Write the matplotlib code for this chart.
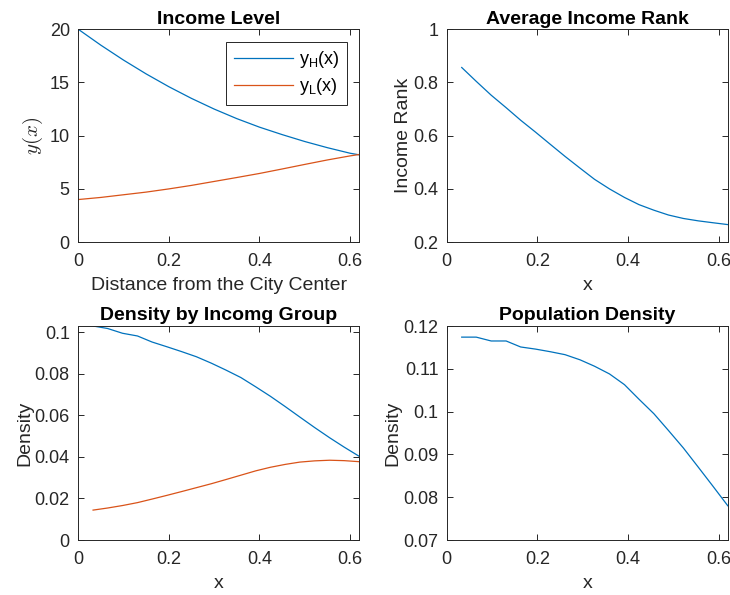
import matplotlib
matplotlib.use("Agg")
import matplotlib.pyplot as plt

plt.rcParams["font.family"] = ["Liberation Sans", "DejaVu Sans"]
plt.rcParams["mathtext.fontset"] = "custom"
plt.rcParams["mathtext.rm"] = "Liberation Sans"
plt.rcParams["mathtext.it"] = "Liberation Sans:italic"

BLUE = "#0072BD"
RED = "#D95319"
DARK = "#262626"

# income level (distance from centre)
x_inc = [0.0, 0.05, 0.1, 0.15, 0.2, 0.25, 0.3, 0.35, 0.4, 0.45, 0.5, 0.55, 0.6, 0.62]
y_high = [20.0, 18.5, 17.1, 15.8, 14.6, 13.5, 12.5, 11.6, 10.8, 10.1, 9.45, 8.87, 8.35, 8.2]
y_low = [4.0, 4.2, 4.45, 4.7, 5.0, 5.33, 5.7, 6.07, 6.45, 6.87, 7.3, 7.72, 8.1, 8.23]

# grid for the other three panels
x_grid = [0.033, 0.065, 0.098, 0.131, 0.163, 0.196, 0.228, 0.261, 0.294, 0.326,
          0.359, 0.392, 0.424, 0.457, 0.489, 0.522, 0.555, 0.587, 0.62]
rank = [0.856, 0.804, 0.752, 0.705, 0.658, 0.613, 0.568, 0.522, 0.478, 0.436,
        0.400, 0.368, 0.341, 0.320, 0.302, 0.289, 0.280, 0.273, 0.266]
dens_high = [0.1030, 0.1018, 0.0995, 0.0982, 0.0953, 0.0930, 0.0907, 0.0882, 0.0851, 0.0818,
             0.0782, 0.0737, 0.0692, 0.0642, 0.0592, 0.0541, 0.0492, 0.0447, 0.0403]
dens_low = [0.0144, 0.0154, 0.0166, 0.0180, 0.0197, 0.0215, 0.0233, 0.0252, 0.0271, 0.0291,
            0.0312, 0.0333, 0.0350, 0.0364, 0.0375, 0.0381, 0.0384, 0.0382, 0.0377]
pop_dens = [0.1174, 0.1174, 0.1165, 0.1165, 0.1151, 0.1146, 0.1140, 0.1133, 0.1121, 0.1106,
            0.1088, 0.1063, 0.1029, 0.0995, 0.0956, 0.0915, 0.0870, 0.0826, 0.0780]

LW = 0.9
TICK_FS = 13
LABEL_FS = 14


def style(ax):
    ax.tick_params(direction="in", top=True, right=True, labelsize=TICK_FS, colors=DARK,
                   length=4, width=0.7)
    ax.tick_params(axis="x", pad=8)
    ax.tick_params(axis="y", pad=6)
    for s in ax.spines.values():
        s.set_color(DARK)
        s.set_linewidth(0.7)
    ax.set_xlim(0, 0.62)
    ax.set_xticks([0, 0.2, 0.4, 0.6])
    ax.set_xticklabels(["0", "0.2", "0.4", "0.6"])


def labels(ax, title, xlabel, ylabel):
    ax.set_title(title, fontsize=LABEL_FS, fontweight="bold", pad=4)
    ax.set_xlabel(xlabel, fontsize=LABEL_FS, color=DARK, labelpad=5)
    ax.set_ylabel(ylabel, fontsize=LABEL_FS, color=DARK, labelpad=1)


fig = plt.figure(figsize=(7.3, 5.95), dpi=100)
w = 0.385
ax1 = fig.add_axes([0.107, 0.593, w, 0.358])
ax2 = fig.add_axes([0.612, 0.593, w, 0.358])
ax3 = fig.add_axes([0.107, 0.0924, w, 0.3597])
ax4 = fig.add_axes([0.612, 0.0924, w, 0.3597])

ax1.plot(x_inc, y_high, color=BLUE, lw=LW, label=r"y$_\mathrm{H}$(x)")
ax1.plot(x_inc, y_low, color=RED, lw=LW, label=r"y$_\mathrm{L}$(x)")
style(ax1)
ax1.set_ylim(0, 20)
ax1.set_yticks([0, 5, 10, 15, 20])
labels(ax1, "Income Level", "Distance from the City Center", "")
ax1.set_ylabel(r"$y(x)$", fontsize=LABEL_FS + 1, color=DARK, math_fontfamily="cm", labelpad=3)
leg = ax1.legend(loc="upper right", fontsize=TICK_FS, handlelength=3.3, fancybox=False,
                 framealpha=1, edgecolor=DARK, borderaxespad=0.7, labelspacing=0.35,
                 handletextpad=0.3, borderpad=0.4)
leg.get_frame().set_linewidth(0.7)

ax2.plot(x_grid, rank, color=BLUE, lw=LW)
style(ax2)
ax2.set_ylim(0.2, 1)
ax2.set_yticks([0.2, 0.4, 0.6, 0.8, 1])
ax2.set_yticklabels(["0.2", "0.4", "0.6", "0.8", "1"])
labels(ax2, "Average Income Rank", "x", "Income Rank")

ax3.plot(x_grid, dens_high, color=BLUE, lw=LW)
ax3.plot(x_grid, dens_low, color=RED, lw=LW)
style(ax3)
ax3.set_ylim(0, max(dens_high))
ax3.set_yticks([0, 0.02, 0.04, 0.06, 0.08, 0.1])
ax3.set_yticklabels(["0", "0.02", "0.04", "0.06", "0.08", "0.1"])
labels(ax3, "Density by Incomg Group", "x", "Density")

ax4.plot(x_grid, pop_dens, color=BLUE, lw=LW)
style(ax4)
ax4.set_ylim(0.07, 0.12)
ax4.set_yticks([0.07, 0.08, 0.09, 0.1, 0.11, 0.12])
ax4.set_yticklabels(["0.07", "0.08", "0.09", "0.1", "0.11", "0.12"])
labels(ax4, "Population Density", "x", "Density")

fig.savefig("out.png", dpi=100)
